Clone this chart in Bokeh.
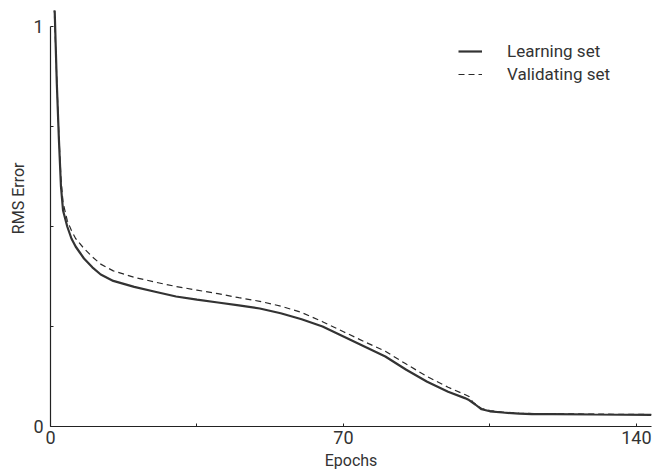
from bokeh.plotting import figure
from bokeh.models import Range1d, Legend, LegendItem, Title, FixedTicker, ColumnDataSource
from bokeh.embed import file_html
from bokeh.resources import INLINE

# ---- data ----
epochs_learn = [0.9, 1.0, 1.5, 2.0, 2.5, 3.0, 4.0, 5.0, 6.0, 7.0, 8.0, 10.0, 12.0, 15.0, 20.0,
                25.0, 30.0, 35.0, 40.0, 45.0, 50.0, 55.0, 60.0, 65.0, 70.0, 75.0, 80.0, 85.0,
                90.0, 95.0, 99.0, 100.0, 101.5, 103.0, 105.0, 108.0, 112.0, 115.0, 120.0,
                130.0, 143.6]
rms_learn = [1.10, 1.04, 0.86, 0.72, 0.60, 0.54, 0.50, 0.47, 0.45, 0.435, 0.42, 0.398, 0.380,
             0.364, 0.349, 0.337, 0.325, 0.317, 0.310, 0.303, 0.295, 0.283, 0.268, 0.250,
             0.225, 0.200, 0.175, 0.142, 0.112, 0.087, 0.071, 0.066, 0.055, 0.043, 0.038,
             0.035, 0.032, 0.031, 0.031, 0.030, 0.029]

epochs_valid = [0.8, 0.9, 1.5, 2.0, 2.5, 3.0, 4.0, 5.0, 6.0, 8.0, 10.0, 12.0, 15.0, 20.0,
                25.0, 30.0, 35.0, 40.0, 45.0, 50.0, 55.0, 60.0, 65.0, 70.0, 75.0, 80.0, 85.0,
                90.0, 95.0, 99.0, 100.0, 101.0, 103.0, 105.0, 108.0, 112.0, 120.0, 130.0, 143.6]
rms_valid = [1.10, 1.04, 0.87, 0.73, 0.62, 0.56, 0.515, 0.49, 0.47, 0.445, 0.424, 0.406,
             0.389, 0.373, 0.361, 0.350, 0.341, 0.332, 0.322, 0.313, 0.301, 0.285, 0.262,
             0.237, 0.212, 0.188, 0.156, 0.125, 0.098, 0.080, 0.075, 0.060, 0.045, 0.040,
             0.036, 0.033, 0.032, 0.031, 0.030]

x_ticks = [0, 35, 70, 105, 140]
x_tick_labels = {0: "0", 35: "", 70: "70", 105: "", 140: "140"}
y_ticks = [0, 0.25, 0.5, 0.75, 1]
y_tick_labels = {0: "0", 0.25: "", 0.5: "", 0.75: "", 1: "1"}
series_names = ["Learning set", "Validating set"]
x_title = "Epochs"
y_title = "RMS Error"

FONT = "Roboto"
TXT = "#333333"

p = figure(width=652, height=472, output_backend="svg", toolbar_location=None,
           x_range=Range1d(0, 143.6), y_range=Range1d(0, 1.04),
           min_border_left=50, min_border_right=1, min_border_top=10, min_border_bottom=45)
p.outline_line_color = None
p.xgrid.visible = False
p.ygrid.visible = False
p.background_fill_color = "white"
p.border_fill_color = "white"

src_l = ColumnDataSource(dict(x=epochs_learn, y=rms_learn))
src_v = ColumnDataSource(dict(x=epochs_valid, y=rms_valid))
r_v = p.line("x", "y", source=src_v, line_color="#2a2a2a", line_width=1.2, line_dash="6 4")
r_l = p.line("x", "y", source=src_l, line_color="#333333", line_width=2.2)

for ax in (p.xaxis[0], p.yaxis[0]):
    ax.axis_line_color = "#222222"
    ax.axis_line_width = 1.2
    ax.major_tick_in = 3
    ax.major_tick_out = 0
    ax.minor_tick_line_color = None
    ax.major_tick_line_color = "#222222"
    ax.major_label_text_font = FONT
    ax.major_label_text_font_size = "18px"
    ax.major_label_text_color = TXT

xa = p.xaxis[0]
xa.ticker = FixedTicker(ticks=x_ticks)
xa.major_label_overrides = x_tick_labels
xa.major_label_standoff = 4
xa.axis_label = x_title
xa.axis_label_standoff = 4
xa.axis_label_text_font = FONT
xa.axis_label_text_font_size = "16px"
xa.axis_label_text_font_style = "normal"
xa.axis_label_text_color = TXT

ya = p.yaxis[0]
ya.ticker = FixedTicker(ticks=y_ticks)
ya.major_label_overrides = y_tick_labels
ya.major_label_standoff = 7
ya.bounds = (0, 1)

p.add_layout(Title(text=y_title, align="right", offset=152, standoff=6,
                   text_font=FONT, text_font_size="16px", text_font_style="normal",
                   text_color=TXT), "left")

legend = Legend(items=[LegendItem(label=series_names[0], renderers=[r_l]),
                       LegendItem(label=series_names[1], renderers=[r_v])],
                location=(408, 342), orientation="vertical",
                glyph_width=24, glyph_height=20, label_standoff=25, padding=0, margin=0,
                spacing=3, label_text_font=FONT, label_text_font_size="17px",
                label_text_color=TXT, border_line_color=None, background_fill_alpha=0)
p.add_layout(legend)

open("out.html", "w").write(file_html(p, INLINE))
